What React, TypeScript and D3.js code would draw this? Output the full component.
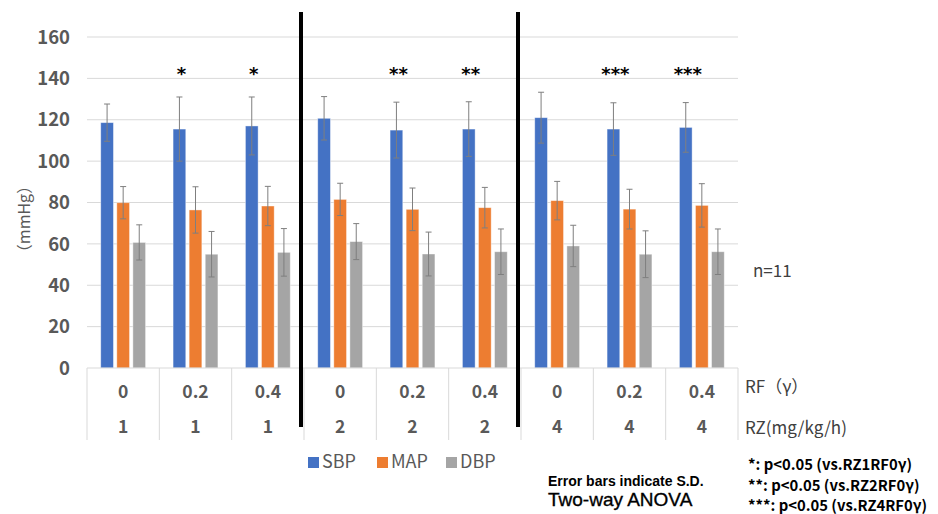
import React from 'react';
import * as d3 from 'd3';

const rfLabels = ['0', '0.2', '0.4', '0', '0.2', '0.4', '0', '0.2', '0.4'];
const rzLabels = ['1', '1', '1', '2', '2', '2', '4', '4', '4'];
const seriesNames = ['SBP', 'MAP', 'DBP'];
const seriesColors = ['#4472C4', '#ED7D31', '#A5A5A5'];

const sbp = [118.6, 115.5, 117.0, 120.7, 115.0, 115.5, 121.0, 115.5, 116.3];
const sbpSd = [9.0, 15.5, 14.0, 10.5, 13.5, 13.2, 12.3, 12.7, 12.0];
const map = [79.9, 76.4, 78.3, 81.5, 76.7, 77.5, 80.9, 76.8, 78.6];
const mapSd = [7.8, 11.2, 9.5, 7.8, 10.3, 9.8, 9.3, 9.6, 10.5];
const dbp = [60.7, 55.0, 55.9, 61.1, 55.1, 56.2, 59.0, 55.0, 56.2];
const dbpSd = [8.5, 11.0, 11.5, 8.7, 10.6, 11.0, 10.0, 11.3, 11.0];

const stars = ['', '*', '*', '', '**', '**', '', '***', '***'];
const yTicks = [0, 20, 40, 60, 80, 100, 120, 140, 160];
const footnotes = ['*: p<0.05 (vs.RZ1RF0γ)', '**: p<0.05 (vs.RZ2RF0γ)', '***: p<0.05 (vs.RZ4RF0γ)'];

const W = 938;
const H = 514;
const FONT = '"Noto Sans CJK JP", "Noto Sans", sans-serif';
const NOTE_FONT = '"Liberation Sans", Arial, sans-serif';

export default function App() {
  const means = [sbp, map, dbp];
  const sds = [sbpSd, mapSd, dbpSd];

  const x = d3.scaleBand<number>().domain(d3.range(9)).range([87, 738]);
  const y = d3.scaleLinear().domain([0, 160]).range([368, 37]);
  const bw = x.bandwidth();
  const sub = d3.scaleBand<number>()
    .domain([0, 1, 2])
    .range([bw * 0.19, bw * 0.81])
    .paddingInner(0.21);

  const tableBottom = y(0) + 72;
  const dividers = [3, 6];

  return (
    <svg width={W} height={H} style={{ position: 'absolute', left: 0, top: 0, background: '#fff' }} fontFamily={FONT}>
      {/* gridlines */}
      {yTicks.filter(t => t > 0).map(t => (
        <line key={t} x1={87} x2={738} y1={y(t)} y2={y(t)} stroke="#d9d9d9" strokeWidth={1} />
      ))}
      {/* y tick labels */}
      {yTicks.map(t => (
        <text key={t} x={70} y={y(t)} dy="0.36em" textAnchor="end" fontSize={18.5} fontWeight={700} fill="#595959">{t}</text>
      ))}
      <text transform={`translate(24,219) rotate(-90)`} textAnchor="middle" dy="0.35em" fontSize={16} fill="#595959">（mmHg）</text>

      {/* bars */}
      {means.map((vals, s) => vals.map((v, i) => (
        <rect key={`${s}-${i}`} x={x(i)! + sub(s)!} y={y(v)} width={sub.bandwidth()} height={y(0) - y(v)}
          fill={seriesColors[s]} stroke="#ffffff" strokeOpacity={0.5} strokeWidth={0.8} />
      )))}
      {/* error bars */}
      {means.map((vals, s) => vals.map((v, i) => {
        const cx = x(i)! + sub(s)! + sub.bandwidth() / 2;
        const top = y(v + sds[s][i]);
        const bot = y(v - sds[s][i]);
        return (
          <g key={`e${s}-${i}`} stroke="#7f7f7f" strokeWidth={1}>
            <line x1={cx} x2={cx} y1={top} y2={bot} />
            <line x1={cx - 3} x2={cx + 3} y1={top} y2={top} />
            <line x1={cx - 3} x2={cx + 3} y1={bot} y2={bot} />
          </g>
        );
      }))}
      {/* significance stars */}
      {stars.map((s, i) => s ? (
        <text key={`s${i}`} x={x(i)! + sub(0)! + sub.bandwidth() / 2 + 2} y={y(144) + 10} textAnchor="middle"
          fontFamily='"DejaVu Sans", sans-serif' fontSize={18} fontWeight={700} fill="#000">{s}</text>
      ) : null)}

      {/* category table */}
      <line x1={87} x2={738} y1={y(0)} y2={y(0)} stroke="#d9d9d9" />
      {d3.range(10).map(i => {
        const bx = i < 9 ? x(i)! : x(8)! + bw;
        return <line key={`v${i}`} x1={bx} x2={bx} y1={y(0)} y2={tableBottom} stroke="#d9d9d9" />;
      })}
      {rfLabels.map((l, i) => (
        <text key={`rf${i}`} x={x(i)! + bw / 2} y={y(0) + 24} dy="0.36em" textAnchor="middle" fontSize={17.5} fontWeight={700} fill="#595959">{l}</text>
      ))}
      {rzLabels.map((l, i) => (
        <text key={`rz${i}`} x={x(i)! + bw / 2} y={y(0) + 59} dy="0.36em" textAnchor="middle" fontSize={17.5} fontWeight={700} fill="#595959">{l}</text>
      ))}

      {/* group dividers */}
      {dividers.map(d => (
        <line key={`d${d}`} x1={x(d)! - 3} x2={x(d)! - 3} y1={y(160) - 25} y2={tableBottom - 13} stroke="#000" strokeWidth={4} />
      ))}

      {/* right labels */}
      <text x={745} y={387} dy="0.36em" fontSize={17} fill="#404040">RF（γ）</text>
      <text x={745} y={428} dy="0.36em" fontSize={17} fill="#404040">RZ(mg/kg/h)</text>
      <text x={753} y={271} dy="0.36em" fontSize={17} fill="#404040">n=11</text>

      {/* legend */}
      {seriesNames.map((n, s) => {
        const lx = 308 + s * 69;
        return (
          <g key={n}>
            <rect x={lx} y={457} width={11} height={11} fill={seriesColors[s]} />
            <text x={lx + 14} y={462} dy="0.36em" fontSize={18} fill="#595959">{n}</text>
          </g>
        );
      })}

      {/* notes */}
      <text x={548} y={485.5} fontFamily={NOTE_FONT} fontSize={14} fontWeight={700} fill="#000">Error bars indicate S.D.</text>
      <text x={548} y={506} fontFamily={NOTE_FONT} fontSize={19} fill="#000" stroke="#000" strokeWidth={0.35}>Two-way ANOVA</text>
      {footnotes.map((f, i) => (
        <text key={f} x={748} y={465 + i * 20.5} dy="0.36em" fontSize={14.8} fontWeight={700} fill="#000">{f}</text>
      ))}
    </svg>
  );
}
